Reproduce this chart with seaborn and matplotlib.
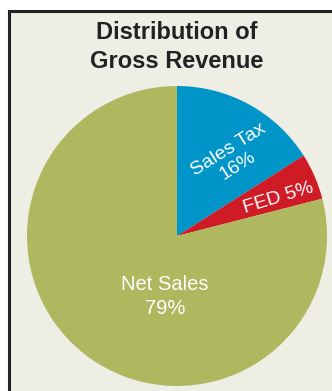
import matplotlib
matplotlib.use("Agg")
import matplotlib.pyplot as plt
from matplotlib.patches import Rectangle
import seaborn as sns

# Revenue split (percent of gross revenue)
categories = ["Sales Tax", "FED", "Net Sales"]
shares = [16, 5, 79]
slice_colors = ["#0095C8", "#CE1B26", "#AFB85F"]

title_lines = ["Distribution of", "Gross Revenue"]

sns.set_theme(style="white")
plt.rcParams["font.family"] = ["Liberation Sans", "DejaVu Sans"]

W, H = 332, 391
fig = plt.figure(figsize=(W / 100, H / 100), dpi=100)
fig.patch.set_facecolor("white")

# Framed panel behind the chart (runs off the right and bottom edges)
fig.patches.append(Rectangle((8.5 / W, -0.2), 2.0, (H - 10.5) / H + 0.2,
                             transform=fig.transFigure, facecolor="#EEEEE4",
                             edgecolor="#222222", linewidth=2.2, zorder=-5))

# Pie area: centre at (177, 236) px, radius 150 px
cx, cy, r = 177, 236, 150
ax = fig.add_axes([(cx - r) / W, (H - cy - r) / H, 2 * r / W, 2 * r / H])
ax.set_zorder(2)
ax.set_facecolor("none")
ax.pie(shares, colors=slice_colors, startangle=90, counterclock=False,
       radius=1.0, wedgeprops=dict(linewidth=0))
ax.set_xlim(-1, 1)
ax.set_ylim(-1, 1)
ax.set_aspect("equal")
ax.axis("off")

label_pos = {"Sales Tax": (0.373, 0.52, 32),
             "FED": (0.673, 0.25, 17),
             "Net Sales": (-0.08, -0.405, 0)}
label_size = {"Sales Tax": 14, "FED": 14, "Net Sales": 14.5}
label_spacing = {"Sales Tax": 1.1, "FED": 1.0, "Net Sales": 1.3}
for name, val in zip(categories, shares):
    x, y, rot = label_pos[name]
    txt = f"{name} {val}%" if name == "FED" else f"{name}\n{val}%"
    ax.text(x, y, txt, color="white", fontsize=label_size[name], rotation=rot,
            ha="center", va="center", rotation_mode="anchor",
            linespacing=label_spacing[name], multialignment="center")

fig.text(176.5 / W, 1 - 47 / H, "\n".join(title_lines), ha="center", va="center",
         fontsize=17, fontweight="bold", color="#222222", linespacing=1.35,
         zorder=3)

fig.savefig("out.png", dpi=100, facecolor="white")
